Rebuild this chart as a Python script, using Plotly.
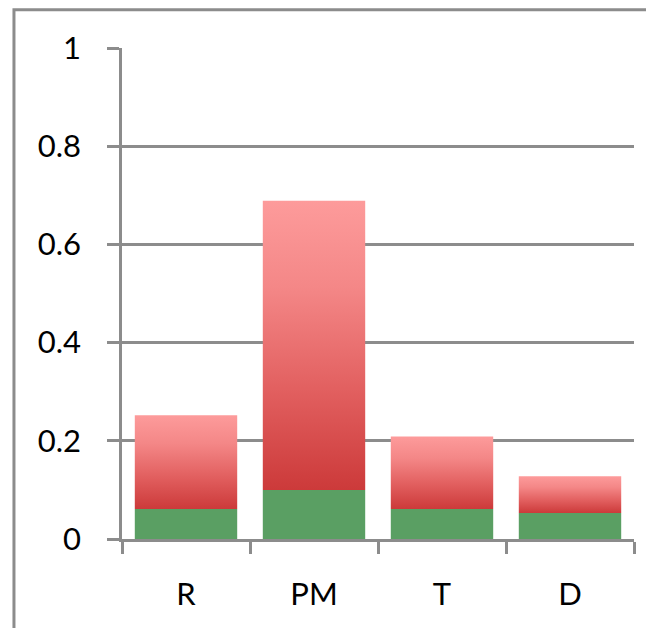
import plotly.graph_objects as go

categories = ["R", "PM", "T", "D"]
green_values = [0.061, 0.100, 0.061, 0.053]
total_values = [0.252, 0.689, 0.209, 0.128]
y_tick_vals = [0, 0.2, 0.4, 0.6, 0.8, 1]
y_tick_text = ["0", "0.2", "0.4", "0.6", "0.8", "1"]

GREY = "#8c8c8c"
GREEN = "#5a9f63"
RED_SCALE = [[0, "#cc3a3a"], [0.35, "#e26060"], [0.7, "#f48787"], [1, "#fd9b9b"]]
BAR_W = 0.8

fig = go.Figure()

# green base segment (bars on the category axis)
fig.add_trace(go.Bar(
    x=categories, y=green_values, width=BAR_W,
    marker=dict(color=GREEN, line=dict(width=0)),
    showlegend=False, hoverinfo="x+y",
))

# red segments with vertical gradient, drawn on an overlaid linear x axis
for i, (g, t) in enumerate(zip(green_values, total_values)):
    x0, x1 = i - BAR_W / 2, i + BAR_W / 2
    fig.add_trace(go.Scatter(
        x=[x0, x1, x1, x0, x0], y=[g, g, t, t, g],
        xaxis="x2", yaxis="y",
        mode="lines", line=dict(width=0), fill="toself",
        fillgradient=dict(type="vertical", colorscale=RED_SCALE),
        showlegend=False, hoverinfo="skip",
    ))

font = dict(family="Lato, Open Sans, sans-serif", size=31, color="#000000")

fig.update_layout(
    width=654, height=628,
    margin=dict(l=114, r=28, t=40, b=97, autoexpand=False),
    paper_bgcolor="white", plot_bgcolor="white",
    font=font,
    barmode="overlay",
    xaxis=dict(
        type="category", categoryorder="array", categoryarray=categories,
        range=[-0.5, 3.5],
        showgrid=False, zeroline=False,
        showline=True, linecolor=GREY, linewidth=2.5,
        ticks="outside", tickson="boundaries", ticklen=12, tickwidth=2.5, tickcolor=GREY,
        ticklabelstandoff=26,
        tickfont=font,
    ),
    xaxis2=dict(
        overlaying="x", range=[-0.5, 3.5], visible=False, fixedrange=True,
    ),
    yaxis=dict(
        range=[0, 1], tickvals=y_tick_vals, ticktext=y_tick_text,
        showgrid=True, gridcolor=GREY, gridwidth=2.5,
        zeroline=False,
        showline=True, linecolor=GREY, linewidth=2.5,
        ticks="outside", ticklen=12, tickwidth=2.5, tickcolor=GREY,
        ticklabelstandoff=20,
        tickfont=font,
    ),
    shapes=[dict(
        type="rect", xref="paper", yref="paper",
        x0=-0.211, x1=1.08, y0=-0.24, y1=1.078,
        line=dict(color=GREY, width=3), fillcolor="rgba(0,0,0,0)", layer="below",
    )],
)

fig.write_html("out.html")
